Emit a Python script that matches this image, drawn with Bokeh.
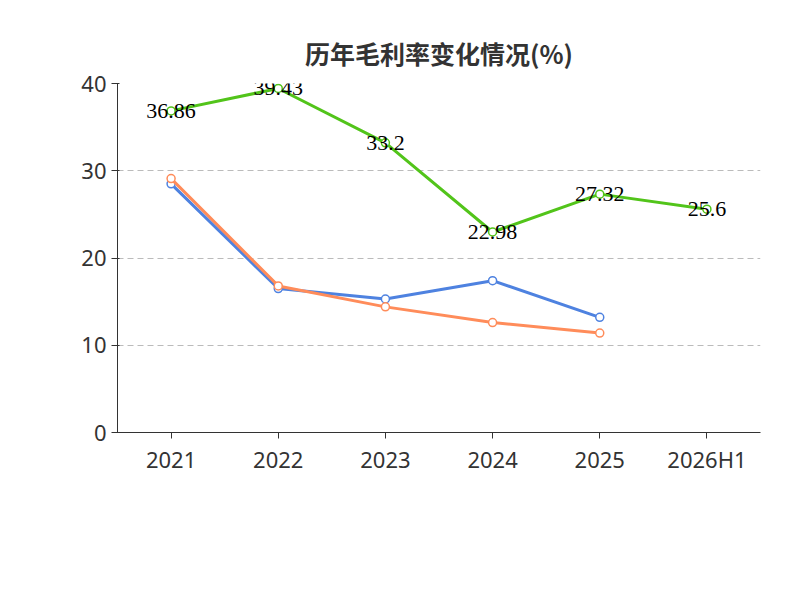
from bokeh.plotting import figure
from bokeh.models import Label, Title, Legend, LegendItem, FixedTicker, ColumnDataSource
from bokeh.embed import file_html
from bokeh.resources import INLINE
import math

years = ["2021", "2022", "2023", "2024", "2025", "2026H1"]
company = [36.86, 39.43, 33.2, 22.98, 27.32, 25.6]
ind_years = ["2021", "2022", "2023", "2024", "2025"]
ind_avg = [28.5, 16.5, 15.3, 17.4, 13.2]
ind_med = [29.1, 16.8, 14.4, 12.6, 11.4]

p = figure(x_range=years, y_range=(0, 40), frame_width=643, frame_height=349,
           output_backend="svg", toolbar_location=None,
           min_border_left=117, min_border_right=16, min_border_top=83, min_border_bottom=0)
p.outline_line_color = None
p.xgrid.grid_line_color = None
p.ygrid.grid_line_dash = "6 4"
p.ygrid.grid_line_color = "#bbbbbb"
p.yaxis.ticker = FixedTicker(ticks=[0, 10, 20, 30, 40])
for ax in (p.xaxis, p.yaxis):
    ax.major_label_text_font_size = "22px"
    ax.major_label_text_color = "#333333"
    ax.major_label_text_font = "Noto Sans"
    ax.axis_line_color = "#333333"
    ax.major_tick_line_color = "#333333"
    ax.minor_tick_line_color = None
p.xaxis.major_tick_in = 0
p.xaxis.major_tick_out = 6

cols = ["#52c41a", "#4e82e0", "#ff8c5a"]
r1 = p.line(years, company, color=cols[0], line_width=3)
c1 = p.scatter(years, company, size=8, fill_color="white", line_color=cols[0], line_width=1.5)
r2 = p.line(ind_years, ind_avg, color=cols[1], line_width=3)
c2 = p.scatter(ind_years, ind_avg, size=8, fill_color="white", line_color=cols[1], line_width=1.5)
r3 = p.line(ind_years, ind_med, color=cols[2], line_width=3)
c3 = p.scatter(ind_years, ind_med, size=8, fill_color="white", line_color=cols[2], line_width=1.5)

src = ColumnDataSource(dict(x=years, y=company, t=[str(v) for v in company]))
p.text(x="x", y="y", text="t", source=src, text_align="center", text_baseline="middle",
       text_font_size="22px", text_color="black", text_font="Noto Sans")

p.add_layout(Title(text="历年毛利率变化情况(%)", align="center", text_font_size="25px",
                   text_color="#333333", text_font="Noto Sans CJK SC", text_font_style="bold",
                   standoff=25), "above")
p.add_layout(Label(x=-62, y=305, x_units="screen", y_units="screen", text="(%)",
                   angle=math.pi/2, text_color="red", text_font_size="15px", text_align="center"))

legend = Legend(items=[LegendItem(label="公司毛利率", renderers=[r1, c1]),
                       LegendItem(label="行业均值", renderers=[r2, c2]),
                       LegendItem(label="行业中位数", renderers=[r3, c3])],
                orientation="horizontal", location="center", border_line_color=None,
                background_fill_alpha=0, label_text_font_size="22px", label_text_color="#333333",
                label_text_font="Noto Sans CJK SC", glyph_width=50, spacing=25, margin=30)
p.add_layout(legend, "below")
p.add_layout(Title(text="制图数据来自恒生聚源数据库", align="center", text_color="#c8962a",
                   text_font_size="15px", text_font="Noto Sans CJK SC", text_font_style="normal"), "below")

open("out.html", "w").write(file_html(p, INLINE))
